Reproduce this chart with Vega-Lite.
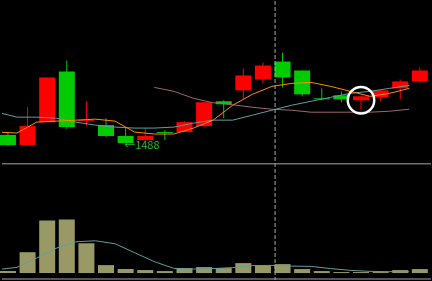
{
  "$schema": "https://vega.github.io/schema/vega-lite/v6.json",
  "width": 432,
  "height": 281,
  "autosize": {"type": "fit", "contains": "padding"},
  "padding": 0,
  "background": "#000000",
  "config": {"view": {"stroke": null}, "scale": {"continuousPadding": 0}},
  "datasets": {
    "candles": [
      {"i": 1, "open": 1496, "close": 1486, "high": 1498, "low": 1485, "dir": "down", "vol": 200},
      {"i": 2, "open": 1486, "close": 1505, "high": 1524, "low": 1486, "dir": "up", "vol": 2100},
      {"i": 3, "open": 1509, "close": 1554, "high": 1554, "low": 1509, "dir": "up", "vol": 5300},
      {"i": 4, "open": 1560, "close": 1504, "high": 1571, "low": 1502, "dir": "down", "vol": 5400},
      {"i": 5, "open": 1510, "close": 1511, "high": 1530, "low": 1505, "dir": "up", "vol": 3000},
      {"i": 6, "open": 1506, "close": 1495, "high": 1513, "low": 1494, "dir": "down", "vol": 800},
      {"i": 7, "open": 1495, "close": 1488, "high": 1503, "low": 1488, "dir": "down", "vol": 400},
      {"i": 8, "open": 1491, "close": 1495, "high": 1503, "low": 1489, "dir": "up", "vol": 300},
      {"i": 9, "open": 1499, "close": 1498, "high": 1501, "low": 1491, "dir": "down", "vol": 200},
      {"i": 10, "open": 1499, "close": 1509, "high": 1510, "low": 1499, "dir": "up", "vol": 500},
      {"i": 11, "open": 1505, "close": 1529, "high": 1529, "low": 1504, "dir": "up", "vol": 600},
      {"i": 12, "open": 1530, "close": 1527, "high": 1531, "low": 1513, "dir": "down", "vol": 500},
      {"i": 13, "open": 1541, "close": 1556, "high": 1563, "low": 1532, "dir": "up", "vol": 1000},
      {"i": 14, "open": 1552, "close": 1566, "high": 1569, "low": 1548, "dir": "up", "vol": 800},
      {"i": 15, "open": 1570, "close": 1554, "high": 1579, "low": 1544, "dir": "down", "vol": 900},
      {"i": 16, "open": 1561, "close": 1537, "high": 1561, "low": 1535, "dir": "down", "vol": 400},
      {"i": 17, "open": 1533, "close": 1532, "high": 1543, "low": 1531, "dir": "down", "vol": 200},
      {"i": 18, "open": 1536, "close": 1532, "high": 1540, "low": 1529, "dir": "down", "vol": 100},
      {"i": 19, "open": 1531, "close": 1535, "high": 1535, "low": 1522, "dir": "up", "vol": 100},
      {"i": 20, "open": 1534, "close": 1541, "high": 1541, "low": 1530, "dir": "up", "vol": 100},
      {"i": 21, "open": 1543, "close": 1550, "high": 1552, "low": 1532, "dir": "up", "vol": 300},
      {"i": 22, "open": 1550, "close": 1561, "high": 1564, "low": 1548, "dir": "up", "vol": 400}
    ],
    "averages": [
      {"i": 0, "ma5": 1499, "ma10": 1519, "ma20": null, "vma": 350},
      {"i": 1, "ma5": 1498, "ma10": 1514, "ma20": null, "vma": 570},
      {"i": 2, "ma5": 1509, "ma10": 1514, "ma20": null, "vma": 1500},
      {"i": 3, "ma5": 1510, "ma10": 1513, "ma20": null, "vma": 2500},
      {"i": 4, "ma5": 1511, "ma10": 1509, "ma20": null, "vma": 3150},
      {"i": 5, "ma5": 1512, "ma10": 1506, "ma20": null, "vma": 3250},
      {"i": 6, "ma5": 1510, "ma10": 1504, "ma20": null, "vma": 2950},
      {"i": 7, "ma5": 1499, "ma10": 1503, "ma20": null, "vma": 2050},
      {"i": 8, "ma5": 1497, "ma10": 1503, "ma20": 1544, "vma": 1150},
      {"i": 9, "ma5": 1497, "ma10": 1504, "ma20": 1540, "vma": 470},
      {"i": 10, "ma5": 1503, "ma10": 1508, "ma20": 1533, "vma": 400},
      {"i": 11, "ma5": 1511, "ma10": 1511, "ma20": 1528.5, "vma": 450},
      {"i": 12, "ma5": 1526, "ma10": 1511, "ma20": 1526.5, "vma": 550},
      {"i": 13, "ma5": 1537, "ma10": 1516, "ma20": 1524, "vma": 750},
      {"i": 14, "ma5": 1545, "ma10": 1521, "ma20": 1522, "vma": 770},
      {"i": 15, "ma5": 1548, "ma10": 1526, "ma20": 1521, "vma": 700},
      {"i": 16, "ma5": 1549, "ma10": 1530, "ma20": 1519, "vma": 670},
      {"i": 17, "ma5": 1545, "ma10": 1534, "ma20": 1519, "vma": 450},
      {"i": 18, "ma5": 1540, "ma10": 1538, "ma20": 1519, "vma": 270},
      {"i": 19, "ma5": 1535, "ma10": 1540, "ma20": 1519, "vma": 170},
      {"i": 20, "ma5": 1538, "ma10": 1543, "ma20": 1520, "vma": 140},
      {"i": 21, "ma5": 1543, "ma10": 1546, "ma20": 1522, "vma": 130}
    ],
    "notes": [
      {"i": 7, "price": 1488, "label": "←1488"}
    ],
    "marks": [
      {"i": 19, "price": 1531}
    ],
    "guides": [
      {"cross": 14.62, "sep": 1467, "bottom": 1351}
    ]
  },
  "resolve": {"scale": {"y": "independent"}},
  "layer": [
    {
      "data": {"name": "guides"},
      "mark": {"type": "rule", "color": "#a8a8a8", "strokeWidth": 1},
      "encoding": {
        "y": {"field": "sep", "type": "quantitative", "scale": {"domain": [1350, 1631], "nice": false, "zero": false}, "axis": null}
      }
    },
    {
      "data": {"name": "guides"},
      "mark": {"type": "rule", "color": "#a8a8a8", "strokeWidth": 1},
      "encoding": {
        "y": {"field": "bottom", "type": "quantitative", "scale": {"domain": [1350, 1631], "nice": false, "zero": false}, "axis": null}
      }
    },
    {
      "data": {"name": "candles"},
      "mark": {"type": "bar", "color": "#999966", "width": 16},
      "encoding": {
        "x": {"field": "i", "type": "quantitative", "scale": {"domain": [0.6962, 22.569], "nice": false, "zero": false, "padding": 0}, "axis": null},
        "y": {"field": "vol", "type": "quantitative", "scale": {"domain": [-700, 27400], "nice": false, "zero": false}, "axis": null},
        "y2": {"datum": 0}
      }
    },
    {
      "data": {"name": "averages"},
      "mark": {"type": "line", "color": "#5f9ea0", "strokeWidth": 1, "xOffset": 9, "clip": true},
      "encoding": {
        "x": {"field": "i", "type": "quantitative", "scale": {"domain": [0.6962, 22.569], "nice": false, "zero": false, "padding": 0}, "axis": null},
        "y": {"field": "vma", "type": "quantitative", "scale": {"domain": [-700, 27400], "nice": false, "zero": false}, "axis": null}
      }
    },
    {
      "data": {"name": "candles"},
      "mark": {"type": "rule", "strokeWidth": 1},
      "encoding": {
        "x": {"field": "i", "type": "quantitative", "scale": {"domain": [0.6962, 22.569], "nice": false, "zero": false, "padding": 0}, "axis": null},
        "y": {"field": "low", "type": "quantitative", "scale": {"domain": [1350, 1631], "nice": false, "zero": false}, "axis": null},
        "y2": {"field": "high"},
        "color": {"field": "dir", "type": "nominal", "scale": {"domain": ["up", "down"], "range": ["#ff0000", "#00cc00"]}, "legend": null}
      }
    },
    {
      "data": {"name": "candles"},
      "mark": {"type": "bar", "width": 16},
      "encoding": {
        "x": {"field": "i", "type": "quantitative", "scale": {"domain": [0.6962, 22.569], "nice": false, "zero": false, "padding": 0}, "axis": null},
        "y": {"field": "open", "type": "quantitative", "scale": {"domain": [1350, 1631], "nice": false, "zero": false}, "axis": null},
        "y2": {"field": "close"},
        "color": {"field": "dir", "type": "nominal", "scale": {"domain": ["up", "down"], "range": ["#ff0000", "#00cc00"]}, "legend": null}
      }
    },
    {
      "data": {"name": "averages"},
      "mark": {"type": "line", "color": "#a06868", "strokeWidth": 1, "xOffset": 9, "clip": true},
      "encoding": {
        "x": {"field": "i", "type": "quantitative", "scale": {"domain": [0.6962, 22.569], "nice": false, "zero": false, "padding": 0}, "axis": null},
        "y": {"field": "ma20", "type": "quantitative", "scale": {"domain": [1350, 1631], "nice": false, "zero": false}, "axis": null}
      }
    },
    {
      "data": {"name": "averages"},
      "mark": {"type": "line", "color": "#5f9ea0", "strokeWidth": 1, "xOffset": 9, "clip": true},
      "encoding": {
        "x": {"field": "i", "type": "quantitative", "scale": {"domain": [0.6962, 22.569], "nice": false, "zero": false, "padding": 0}, "axis": null},
        "y": {"field": "ma10", "type": "quantitative", "scale": {"domain": [1350, 1631], "nice": false, "zero": false}, "axis": null}
      }
    },
    {
      "data": {"name": "averages"},
      "mark": {"type": "line", "color": "#ff8c00", "strokeWidth": 1, "xOffset": 9, "clip": true},
      "encoding": {
        "x": {"field": "i", "type": "quantitative", "scale": {"domain": [0.6962, 22.569], "nice": false, "zero": false, "padding": 0}, "axis": null},
        "y": {"field": "ma5", "type": "quantitative", "scale": {"domain": [1350, 1631], "nice": false, "zero": false}, "axis": null}
      }
    },
    {
      "data": {"name": "guides"},
      "mark": {"type": "rule", "color": "#a8a8a8", "strokeWidth": 1, "strokeDash": [4, 2]},
      "encoding": {
        "x": {"field": "cross", "type": "quantitative", "scale": {"domain": [0.6962, 22.569], "nice": false, "zero": false, "padding": 0}, "axis": null}
      }
    },
    {
      "data": {"name": "notes"},
      "mark": {"type": "text", "color": "#22b822", "font": "Noto Sans CJK SC", "fontSize": 11, "align": "left", "baseline": "middle", "dx": -1.5, "dy": 3},
      "encoding": {
        "x": {"field": "i", "type": "quantitative", "scale": {"domain": [0.6962, 22.569], "nice": false, "zero": false, "padding": 0}, "axis": null},
        "y": {"field": "price", "type": "quantitative", "scale": {"domain": [1350, 1631], "nice": false, "zero": false}, "axis": null},
        "text": {"field": "label"}
      }
    },
    {
      "data": {"name": "marks"},
      "mark": {"type": "point", "shape": "circle", "filled": false, "color": "#ffffff", "strokeWidth": 2.5, "size": 700, "opacity": 1},
      "encoding": {
        "x": {"field": "i", "type": "quantitative", "scale": {"domain": [0.6962, 22.569], "nice": false, "zero": false, "padding": 0}, "axis": null},
        "y": {"field": "price", "type": "quantitative", "scale": {"domain": [1350, 1631], "nice": false, "zero": false}, "axis": null}
      }
    }
  ]
}
